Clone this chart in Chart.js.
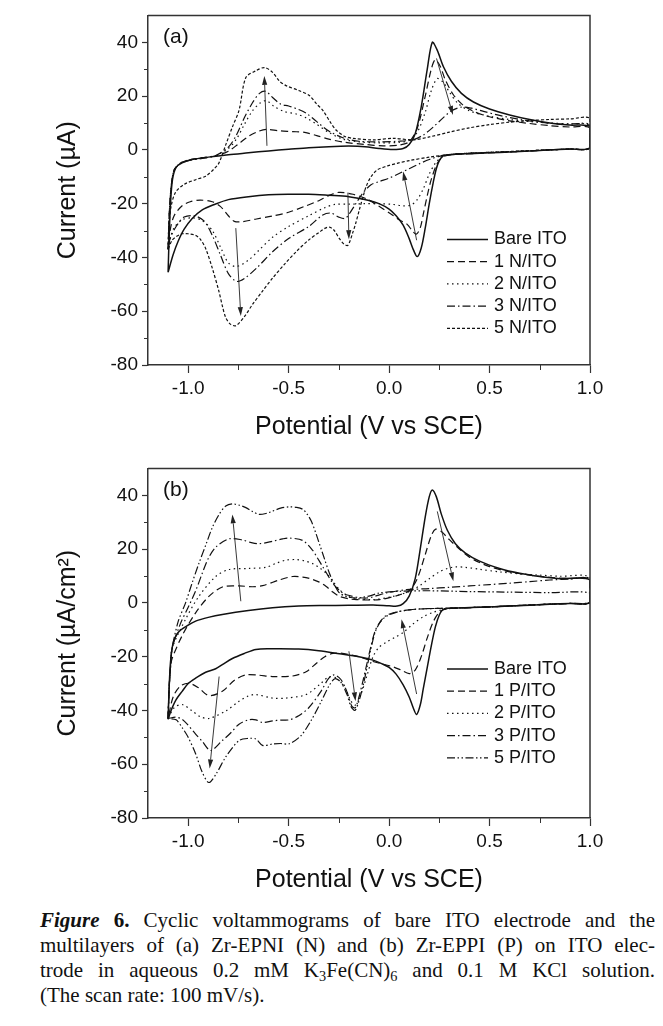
<!DOCTYPE html>
<html>
<head>
<meta charset="utf-8">
<script src="https://cdn.jsdelivr.net/npm/chart.js@4.4.1/dist/chart.umd.min.js"></script>
<style>
  body { margin: 0; background: #fff; width: 663px; height: 1026px; overflow: hidden; position: relative; }
  canvas { position: absolute; left: 0; }
  #chartA { top: 0; }
  #chartB { top: 453px; }
  #caption {
    position: absolute; left: 40px; top: 908px; width: 615px;
    font-family: 'Liberation Serif', 'Times New Roman', serif; font-size: 21px; line-height: 25px;
    color: #111;
  }
  #caption div { white-space: nowrap; text-align: justify; text-align-last: justify; }
  #caption div.last { text-align-last: left; }
  #caption sub { font-size: 0.68em; line-height: 0; vertical-align: -0.25em; }
</style>
</head>
<body>
<canvas id="chartA" width="663" height="450"></canvas>
<canvas id="chartB" width="663" height="450"></canvas>
<div id="caption">
  <div><b><i>Figure</i> 6.</b> Cyclic voltammograms of bare ITO electrode and the</div>
  <div>multilayers of (a) Zr-EPNI (N) and (b) Zr-EPPI (P) on ITO elec-</div>
  <div>trode in aqueous 0.2 mM K<sub>3</sub>Fe(CN)<sub>6</sub> and 0.1 M KCl solution.</div>
  <div class="last">(The scan rate: 100 mV/s).</div>
</div>
<script>
// tick values
const xTickValues = [-1, -0.75, -0.5, -0.25, 0, 0.25, 0.5, 0.75, 1];
const yTickValues = [-80, -70, -60, -50, -40, -30, -20, -10, 0, 10, 20, 30, 40];

// ---- panel (a): [potential V, current uA], forward scan then reverse scan ----
const labelsA = ['Bare ITO', '1 N/ITO', '2 N/ITO', '3 N/ITO', '5 N/ITO'];

const bareA = [[-1.1,-45.5],[-1.095,-33],[-1.088,-20],[-1.078,-11],[-1.06,-6.5],[-1.03,-4.8],[-0.98,-3.6],[-0.9,-2.7],[-0.8,-1.8],[-0.7,-1.1],[-0.6,-0.4],[-0.5,0.2],[-0.4,0.8],[-0.3,1.2],[-0.2,1.4],[-0.12,1.2],[-0.05,0.5],[0.02,0.1],[0.07,0.5],[0.1,2],[0.13,6],[0.16,16],[0.19,30],[0.215,40],[0.24,37],[0.27,31],[0.31,25.5],[0.36,21],[0.42,17.8],[0.5,15.2],[0.6,13],[0.7,11.3],[0.8,10],[0.9,9.2],[1.0,8.6],
  [1.0,0.8],[0.9,0.3],[0.8,0],[0.7,-0.4],[0.6,-0.8],[0.5,-1.1],[0.4,-1.4],[0.32,-1.7],[0.27,-2.2],[0.25,-4],[0.235,-7],[0.22,-12],[0.2,-20],[0.18,-29],[0.16,-36.5],[0.14,-39.7],[0.12,-37],[0.1,-33],[0.07,-28],[0.035,-24.5],[0.0,-22],[-0.05,-20],[-0.1,-18.8],[-0.2,-17.4],[-0.3,-16.9],[-0.4,-16.5],[-0.5,-16.5],[-0.6,-16.7],[-0.7,-17.4],[-0.8,-18.5],[-0.87,-20.3],[-0.93,-22.3],[-0.98,-25.5],[-1.02,-29.5],[-1.05,-34],[-1.075,-39],[-1.1,-45.5]];

const oneN = [[-1.1,-37],[-1.095,-25],[-1.085,-14],[-1.07,-7.5],[-1.04,-5],[-1.0,-3.8],[-0.93,-3],[-0.86,-2.2],[-0.8,-0.5],[-0.75,2.2],[-0.7,5],[-0.65,6.9],[-0.61,7.6],[-0.55,7.1],[-0.48,6.8],[-0.42,6.5],[-0.36,5.3],[-0.3,4],[-0.22,2.8],[-0.12,2],[-0.03,1.5],[0.05,1.8],[0.1,3],[0.14,8],[0.18,20],[0.21,30],[0.23,33.5],[0.255,31],[0.28,26],[0.32,20.5],[0.37,16.5],[0.43,14],[0.5,12.3],[0.6,10.8],[0.7,9.8],[0.8,9],[0.9,8.5],[1.0,8.2],
  [1.0,0.8],[0.9,0.3],[0.8,0],[0.6,-0.8],[0.45,-1.3],[0.33,-1.7],[0.27,-2.5],[0.24,-5],[0.21,-11],[0.19,-17],[0.17,-24],[0.155,-29],[0.137,-31.3],[0.12,-30.5],[0.09,-27.7],[0.05,-26],[0.02,-24.4],[-0.05,-21],[-0.11,-18.3],[-0.18,-16.5],[-0.25,-15.8],[-0.3,-17],[-0.35,-18.9],[-0.42,-21],[-0.5,-23.2],[-0.58,-24.6],[-0.66,-25.7],[-0.73,-26.7],[-0.77,-26.6],[-0.8,-24.5],[-0.84,-21],[-0.88,-19.3],[-0.94,-18.7],[-0.99,-19.3],[-1.03,-20.8],[-1.07,-24.5],[-1.09,-30],[-1.1,-37]];

const twoN = [[-1.1,-37],[-1.095,-25],[-1.085,-14],[-1.07,-7.5],[-1.04,-5],[-1.0,-3.8],[-0.93,-3],[-0.86,-2],[-0.8,0.5],[-0.76,4],[-0.72,9.5],[-0.68,14.5],[-0.64,17.5],[-0.61,18.3],[-0.57,16],[-0.52,14.2],[-0.46,13.3],[-0.41,11.8],[-0.36,9.5],[-0.3,6.5],[-0.23,4],[-0.15,3],[-0.05,2.6],[0.05,2.8],[0.1,3.5],[0.14,6.5],[0.18,14],[0.21,22],[0.24,26.5],[0.27,25],[0.3,21.5],[0.34,17.5],[0.4,14.5],[0.5,12.5],[0.6,11.3],[0.7,10.5],[0.8,10],[0.9,9.6],[1.0,9.3],
  [1.0,0.8],[0.9,0.3],[0.8,0],[0.6,-0.7],[0.4,-1.2],[0.3,-1.8],[0.26,-2.8],[0.23,-5],[0.2,-9],[0.17,-14.5],[0.14,-18.5],[0.11,-20.5],[0.07,-20.8],[0.02,-20.3],[-0.05,-20],[-0.12,-20],[-0.2,-20.2],[-0.27,-20.3],[-0.32,-21.5],[-0.4,-24.5],[-0.5,-28.5],[-0.58,-32.5],[-0.65,-37.5],[-0.7,-41],[-0.76,-43.4],[-0.8,-42],[-0.84,-36],[-0.88,-30],[-0.93,-26.3],[-0.98,-25.3],[-1.03,-26],[-1.07,-29],[-1.09,-33],[-1.1,-37]];

const threeN = [[-1.1,-37],[-1.095,-25],[-1.085,-14],[-1.07,-7.5],[-1.04,-5.2],[-1.0,-4],[-0.93,-3.2],[-0.86,-2],[-0.8,1],[-0.76,5.5],[-0.72,12],[-0.68,17.5],[-0.645,21],[-0.615,21.8],[-0.58,19.5],[-0.54,17],[-0.5,16.3],[-0.45,15],[-0.41,13.5],[-0.36,10.5],[-0.3,7],[-0.23,4.5],[-0.15,3.2],[-0.05,3],[0.05,3.2],[0.12,3.8],[0.17,5.5],[0.22,8.5],[0.27,12],[0.31,14.5],[0.36,15.9],[0.41,15.5],[0.47,14.3],[0.55,12.8],[0.65,11.3],[0.75,10.3],[0.85,9.6],[1.0,9],
  [1.0,0.8],[0.9,0.3],[0.8,0],[0.6,-0.7],[0.4,-1.2],[0.3,-1.8],[0.25,-2.4],[0.2,-3.6],[0.15,-5.2],[0.1,-7],[0.05,-8.8],[0.0,-10.5],[-0.05,-11.8],[-0.09,-13],[-0.13,-16],[-0.17,-20.5],[-0.2,-24],[-0.22,-25.5],[-0.25,-25],[-0.29,-23.5],[-0.33,-24.2],[-0.4,-28.5],[-0.5,-33],[-0.58,-37.9],[-0.66,-44],[-0.72,-47.8],[-0.76,-48.9],[-0.8,-46],[-0.84,-39],[-0.88,-31.8],[-0.92,-26.5],[-0.97,-24.5],[-1.02,-25],[-1.06,-28.5],[-1.09,-33],[-1.1,-37]];

const fiveN = [[-1.1,-37],[-1.095,-28],[-1.085,-21],[-1.063,-15.8],[-1.02,-12.8],[-0.96,-11],[-0.913,-9.8],[-0.87,-7],[-0.847,-4.9],[-0.81,2.5],[-0.78,8.5],[-0.747,14.7],[-0.713,26.9],[-0.663,29.4],[-0.62,30.6],[-0.58,28.8],[-0.545,25.5],[-0.513,23.9],[-0.447,22],[-0.397,20.2],[-0.36,17],[-0.33,14.7],[-0.29,10],[-0.263,7.3],[-0.22,5],[-0.18,4.3],[-0.08,3.7],[0.02,4.3],[0.12,3.7],[0.2,4.8],[0.3,6.6],[0.4,8.2],[0.5,9.4],[0.6,10.3],[0.7,10.9],[0.8,11.3],[0.9,11.5],[1.0,11.6],
  [1.0,0.8],[0.9,0.3],[0.8,0],[0.6,-0.6],[0.45,-1.1],[0.3,-1.8],[0.2,-2.7],[0.1,-4],[0.04,-5],[-0.013,-6.1],[-0.06,-7.5],[-0.09,-10],[-0.113,-13.4],[-0.13,-17.5],[-0.147,-22],[-0.165,-27],[-0.18,-30.6],[-0.205,-35.5],[-0.225,-35],[-0.247,-33],[-0.275,-29.8],[-0.297,-28.7],[-0.32,-29.2],[-0.347,-30.6],[-0.4,-33.5],[-0.463,-37.9],[-0.52,-42.5],[-0.58,-47.7],[-0.63,-52.5],[-0.68,-57.5],[-0.72,-62],[-0.763,-65.4],[-0.79,-64.8],[-0.813,-62.4],[-0.83,-58],[-0.847,-52.6],[-0.88,-44],[-0.913,-36.7],[-0.94,-33.2],[-0.963,-31.8],[-1.0,-31.2],[-1.03,-31.2],[-1.06,-32.3],[-1.08,-33.6],[-1.1,-37]];

// arrows: [x from, y from, x to, y to]
const arrowsA = [[-0.608,1.5,-0.621,27.5],[0.236,34,0.318,13],[-0.763,-29.1,-0.738,-61.8],[-0.205,-15.9,-0.2,-33.2],[0.137,-33.6,0.07,-8]];

// ---- panel (b): [potential V, current uA/cm2] ----
const labelsB = ['Bare ITO', '1 P/ITO', '2 P/ITO', '3 P/ITO', '5 P/ITO'];

const bareB = [[-1.1,-43.3],[-1.095,-32],[-1.088,-22],[-1.075,-15],[-1.05,-11],[-1.0,-8.3],[-0.96,-6.7],[-0.9,-5.4],[-0.83,-4.3],[-0.7,-2.8],[-0.58,-1.8],[-0.45,-1.2],[-0.33,-1],[-0.2,-0.9],[-0.08,-0.8],[0.0,-1.1],[0.04,-1.2],[0.07,-0.3],[0.1,2.5],[0.13,9],[0.155,20],[0.18,32],[0.2,39.5],[0.215,42],[0.235,39.5],[0.26,33],[0.29,27],[0.33,22],[0.38,18.5],[0.45,15.5],[0.55,12.8],[0.65,11],[0.75,9.8],[0.85,9],[1.0,8.5],
  [1.0,0.2],[0.9,-0.2],[0.8,-0.5],[0.6,-1.2],[0.45,-1.6],[0.32,-1.9],[0.27,-2.4],[0.25,-4.5],[0.23,-9],[0.21,-16],[0.19,-24],[0.17,-32],[0.155,-38],[0.137,-41.5],[0.12,-39],[0.1,-35],[0.07,-30.5],[0.035,-26.5],[0.0,-24],[-0.04,-22.5],[-0.08,-21.3],[-0.15,-20],[-0.247,-18.9],[-0.35,-17.8],[-0.45,-17.2],[-0.58,-17.1],[-0.663,-17.3],[-0.72,-18.8],[-0.78,-20.7],[-0.83,-23],[-0.863,-24.5],[-0.913,-25.8],[-0.963,-28],[-1.0,-30],[-1.03,-32.9],[-1.06,-36],[-1.085,-40],[-1.1,-43.3]];

const oneP = [[-1.1,-43],[-1.095,-32],[-1.088,-24],[-1.08,-20.7],[-1.03,-12.2],[-0.963,-3.7],[-0.897,2.4],[-0.83,5.9],[-0.747,6.3],[-0.68,6.0],[-0.63,6.4],[-0.547,8.5],[-0.48,9.8],[-0.43,9.6],[-0.397,9.1],[-0.35,7.8],[-0.313,6.1],[-0.28,4],[-0.247,2.4],[-0.2,1.5],[-0.163,1.2],[-0.047,1.2],[0.053,3],[0.1,4.5],[0.14,9],[0.18,18],[0.21,25],[0.232,27.4],[0.26,26.5],[0.3,23.5],[0.35,20],[0.4,17],[0.45,15],[0.5,13.5],[0.6,11.5],[0.7,10.3],[0.8,9.5],[0.9,9],[1.0,8.8],
  [1.0,0.2],[0.9,-0.2],[0.7,-0.8],[0.5,-1.5],[0.35,-1.9],[0.28,-2.3],[0.25,-3.5],[0.22,-7],[0.19,-13],[0.16,-20],[0.13,-25],[0.1,-26.3],[0.06,-25],[0.02,-23.8],[-0.03,-22.8],[-0.08,-21.8],[-0.13,-20.5],[-0.18,-19.5],[-0.24,-18.7],[-0.28,-18.8],[-0.32,-20],[-0.37,-23],[-0.413,-25.6],[-0.48,-27.2],[-0.58,-27.4],[-0.65,-26.9],[-0.713,-26.8],[-0.77,-28.8],[-0.83,-32.9],[-0.897,-34.5],[-0.95,-31.5],[-0.997,-29.9],[-1.04,-31],[-1.075,-35],[-1.1,-43]];

const twoP = [[-1.1,-43],[-1.095,-32],[-1.088,-24],[-1.08,-17],[-1.013,-6.1],[-0.947,2.4],[-0.863,9.8],[-0.797,12.4],[-0.697,12.8],[-0.613,13.2],[-0.56,14.8],[-0.513,15.9],[-0.463,16.1],[-0.42,15.6],[-0.38,14.6],[-0.345,13],[-0.313,11],[-0.28,8],[-0.247,4.9],[-0.21,2.8],[-0.18,1.8],[-0.08,1.2],[0.02,2.4],[0.103,4.3],[0.15,6.3],[0.2,9],[0.25,11.5],[0.29,12.8],[0.331,13.4],[0.38,13.2],[0.45,12.5],[0.55,11.5],[0.65,10.8],[0.75,10.3],[0.85,9.9],[1.0,9.5],
  [1.0,0.2],[0.9,-0.2],[0.7,-0.8],[0.5,-1.5],[0.35,-1.9],[0.28,-2.3],[0.22,-3.5],[0.17,-5.2],[0.12,-7.8],[0.07,-11],[0.03,-12.8],[-0.013,-14.6],[-0.05,-16.5],[-0.08,-20],[-0.11,-27],[-0.14,-34],[-0.167,-38],[-0.19,-36.5],[-0.22,-31.5],[-0.263,-28],[-0.3,-27.5],[-0.34,-30],[-0.413,-34.1],[-0.513,-35.4],[-0.58,-35.4],[-0.663,-34.1],[-0.7,-34.6],[-0.747,-36.6],[-0.813,-40.2],[-0.897,-43],[-0.94,-42.3],[-0.98,-40.2],[-1.03,-37.8],[-1.07,-39],[-1.1,-43]];

const threeP = [[-1.1,-43],[-1.095,-32],[-1.088,-24],[-1.08,-17],[-1.04,-8],[-0.997,-1.2],[-0.96,5],[-0.93,11],[-0.9,16.5],[-0.863,20.7],[-0.797,23.8],[-0.73,23.4],[-0.69,22.5],[-0.647,22],[-0.58,22.9],[-0.53,23.8],[-0.497,24.1],[-0.43,23.2],[-0.38,19.5],[-0.355,16.5],[-0.33,13.4],[-0.28,7.3],[-0.245,4.5],[-0.213,3],[-0.113,1.8],[-0.013,3.7],[0.087,4.9],[0.2,5.3],[0.3,5.8],[0.4,6.3],[0.5,6.8],[0.6,7.3],[0.7,7.9],[0.8,8.5],[0.9,8.8],[1.0,9],
  [1.0,0.2],[0.9,-0.2],[0.7,-0.8],[0.5,-1.5],[0.3,-2],[0.17,-2.2],[0.1,-2.6],[0.05,-3.2],[0.02,-3.7],[-0.02,-5],[-0.047,-7.3],[-0.07,-10.5],[-0.09,-16],[-0.11,-22.5],[-0.13,-29],[-0.15,-35],[-0.168,-39],[-0.185,-38.5],[-0.21,-33],[-0.24,-28.5],[-0.273,-26.8],[-0.3,-28],[-0.34,-33],[-0.4,-39],[-0.45,-42],[-0.497,-43.5],[-0.54,-43.6],[-0.58,-43.9],[-0.63,-44.5],[-0.663,-43.5],[-0.7,-43.5],[-0.747,-45.1],[-0.79,-48.5],[-0.83,-51.2],[-0.888,-54.9],[-0.93,-51.5],[-0.963,-48.8],[-1.0,-45.5],[-1.03,-43.3],[-1.06,-42.5],[-1.1,-43]];

const fiveP = [[-1.1,-43],[-1.095,-32],[-1.088,-24],[-1.08,-17],[-1.05,-7],[-1.013,0],[-0.98,7.5],[-0.947,14.6],[-0.91,22],[-0.88,28],[-0.845,33],[-0.813,36],[-0.78,36.8],[-0.745,36.3],[-0.713,35.4],[-0.68,34],[-0.647,32.9],[-0.61,33.3],[-0.58,34.1],[-0.54,35.2],[-0.497,35.7],[-0.46,35.5],[-0.43,34.8],[-0.41,33.2],[-0.388,30.5],[-0.365,26],[-0.347,22],[-0.32,16],[-0.297,11],[-0.27,6.5],[-0.247,3.7],[-0.21,2.3],[-0.163,1.8],[-0.1,2.5],[-0.047,3.7],[0.053,4.3],[0.2,4.5],[0.4,4.2],[0.6,4],[0.8,3.8],[1.0,3.7],
  [1.0,0.2],[0.9,-0.2],[0.7,-0.8],[0.5,-1.5],[0.3,-2],[0.17,-2.2],[0.1,-2.6],[0.05,-3.2],[0.02,-3.9],[-0.02,-5.3],[-0.047,-7.5],[-0.07,-11],[-0.09,-17],[-0.11,-24],[-0.13,-31],[-0.15,-36.5],[-0.17,-40],[-0.19,-38.5],[-0.21,-34],[-0.24,-29.5],[-0.27,-28.2],[-0.3,-31],[-0.34,-37],[-0.39,-44],[-0.44,-49.5],[-0.497,-52.4],[-0.54,-52.3],[-0.58,-52.5],[-0.63,-53],[-0.663,-50.6],[-0.7,-50.4],[-0.747,-51.2],[-0.813,-57.3],[-0.86,-63.5],[-0.897,-66.8],[-0.93,-63],[-0.963,-56.1],[-1.0,-50],[-1.03,-46.4],[-1.06,-43.5],[-1.1,-43]];

const arrowsB = [[-0.738,0.6,-0.78,32.9],[0.24,34,0.32,8],[-0.846,-27.4,-0.893,-61.6],[-0.2,-18,-0.167,-36.6],[0.137,-33.9,0.062,-6.1]];

// line styles
const dashA = [[], [7, 4], [1.5, 3.5], [8, 3, 1.5, 3], [3, 2]];
const dashB = [[], [7, 4], [1.5, 3.5], [8, 3, 1.5, 3], [8, 2.5, 1.5, 2.5, 1.5, 2.5]];

const FONT = "'Liberation Sans', Arial, sans-serif";
const isMajorX = v => Math.abs(v * 2 - Math.round(v * 2)) < 1e-6;
const isMajorY = v => v % 20 === 0;

function decorPlugin(panelLabel, arrows, legendTop) {
    return {
        id: 'decor',
        afterDatasetsDraw(chart) {
            const {ctx, scales: {x, y}} = chart;
            ctx.save();
            ctx.strokeStyle = '#222';
            ctx.fillStyle = '#222';
            ctx.lineWidth = 0.9;
            arrows.forEach(a => {
                const x0 = x.getPixelForValue(a[0]), y0 = y.getPixelForValue(a[1]);
                const x1 = x.getPixelForValue(a[2]), y1 = y.getPixelForValue(a[3]);
                const ang = Math.atan2(y1 - y0, x1 - x0);
                const hl = 9, hw = 2.6;
                const bx = x1 - hl * Math.cos(ang), by = y1 - hl * Math.sin(ang);
                ctx.beginPath();
                ctx.moveTo(x0, y0);
                ctx.lineTo(bx, by);
                ctx.stroke();
                ctx.beginPath();
                ctx.moveTo(x1, y1);
                ctx.lineTo(bx + hw * Math.sin(ang), by - hw * Math.cos(ang));
                ctx.lineTo(bx - hw * Math.sin(ang), by + hw * Math.cos(ang));
                ctx.closePath();
                ctx.fill();
            });
            ctx.restore();
        },
        afterDraw(chart) {
            const {ctx, chartArea: ca, scales: {x, y}} = chart;
            ctx.save();
            // top and right frame
            ctx.strokeStyle = '#333';
            ctx.lineWidth = 1.5;
            ctx.beginPath();
            ctx.moveTo(ca.left, ca.top);
            ctx.lineTo(ca.right, ca.top);
            ctx.lineTo(ca.right, ca.bottom);
            ctx.stroke();
            // minor ticks
            ctx.lineWidth = 1;
            x.ticks.forEach(t => {
                if (isMajorX(t.value)) return;
                const px = Math.round(x.getPixelForValue(t.value)) + 0.5;
                ctx.beginPath(); ctx.moveTo(px, ca.bottom); ctx.lineTo(px, ca.bottom + 5); ctx.stroke();
            });
            y.ticks.forEach(t => {
                if (isMajorY(t.value)) return;
                const py = Math.round(y.getPixelForValue(t.value)) + 0.5;
                ctx.beginPath(); ctx.moveTo(ca.left - 4, py); ctx.lineTo(ca.left, py); ctx.stroke();
            });
            // legend
            ctx.font = '18px ' + FONT;
            ctx.textBaseline = 'middle';
            ctx.fillStyle = '#111';
            chart.data.datasets.forEach((ds, i) => {
                const ly = legendTop + i * 22.2;
                ctx.strokeStyle = ds.borderColor;
                ctx.lineWidth = ds.borderWidth;
                ctx.setLineDash(ds.borderDash);
                ctx.beginPath(); ctx.moveTo(447, ly); ctx.lineTo(488, ly); ctx.stroke();
                ctx.setLineDash([]);
                ctx.fillText(ds.label, 494, ly);
            });
            // panel letter
            ctx.font = '21px ' + FONT;
            ctx.fillText(panelLabel, ca.left + 15, ca.top + 22);
            ctx.restore();
        }
    };
}

function buildChart(canvasId, series, labels, dashes, yTitle, panelLabel, arrows, legendTop) {
    const ctx = document.getElementById(canvasId).getContext('2d');
    const datasets = series.map((pts, i) => ({
        label: labels[i],
        data: pts.map(p => ({x: p[0], y: p[1]})),
        borderColor: '#111',
        borderWidth: i === 0 ? 1.5 : 1.2,
        borderDash: dashes[i],
        pointRadius: 0,
        tension: 0.3,
        fill: false
    }));
    return new Chart(ctx, {
        type: 'line',
        data: { datasets: datasets },
        options: {
            responsive: false,
            animation: false,
            events: [],
            layout: { padding: { left: 0, right: 73, top: 11, bottom: 0 } },
            plugins: { legend: { display: false }, tooltip: { enabled: false } },
            scales: {
                x: {
                    type: 'linear',
                    min: -1.2,
                    max: 1.0,
                    afterBuildTicks: scale => { scale.ticks = xTickValues.map(v => ({value: v})); },
                    afterFit: scale => { scale.height = 85; },
                    grid: {
                        drawOnChartArea: false,
                        tickLength: 8,
                        tickWidth: 1.2,
                        tickColor: c => (c.tick && isMajorX(c.tick.value)) ? '#333' : 'rgba(0,0,0,0)'
                    },
                    border: { color: '#333', width: 1.5 },
                    ticks: {
                        autoSkip: false,
                        maxRotation: 0,
                        padding: 4,
                        color: '#111',
                        font: { family: FONT, size: 19 },
                        callback: v => isMajorX(v) ? v.toFixed(1) : ''
                    },
                    title: {
                        display: true,
                        text: 'Potential (V vs SCE)',
                        color: '#111',
                        font: { family: FONT, size: 25 },
                        padding: { top: 0, bottom: 8 }
                    }
                },
                y: {
                    type: 'linear',
                    min: -80,
                    max: 50,
                    afterBuildTicks: scale => { scale.ticks = yTickValues.map(v => ({value: v})); },
                    afterFit: scale => { scale.width = 148; },
                    grid: {
                        drawOnChartArea: false,
                        tickLength: 6,
                        tickWidth: 1.2,
                        tickColor: c => (c.tick && isMajorY(c.tick.value)) ? '#333' : 'rgba(0,0,0,0)'
                    },
                    border: { color: '#333', width: 1.5 },
                    ticks: {
                        autoSkip: false,
                        padding: 4,
                        color: '#111',
                        font: { family: FONT, size: 19 },
                        callback: v => isMajorY(v) ? String(v) : ''
                    },
                    title: {
                        display: true,
                        text: yTitle,
                        color: '#111',
                        font: { family: FONT, size: 25 },
                        padding: { top: 53, bottom: 0 }
                    }
                }
            }
        },
        plugins: [decorPlugin(panelLabel, arrows, legendTop)]
    });
}

buildChart('chartA', [bareA, oneN, twoN, threeN, fiveN], labelsA, dashA,
    'Current (\u00b5A)', '(a)', arrowsA, 239.5);
buildChart('chartB', [bareB, oneP, twoP, threeP, fiveP], labelsB, dashB,
    'Current (\u00b5A/cm\u00b2)', '(b)', arrowsB, 216);
</script>
</body>
</html>
